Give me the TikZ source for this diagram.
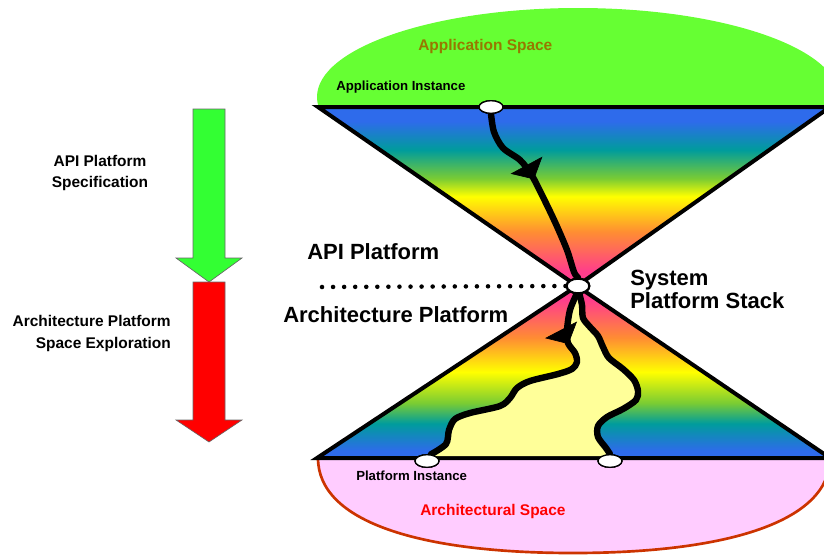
\documentclass[tikz,border=0pt]{standalone}
\usepackage{fontspec}
\setmainfont{Liberation Sans}
\usetikzlibrary{shapes.geometric,arrows.meta,decorations.markings}

\definecolor{appgreen}{HTML}{66FF33}
\definecolor{apptext}{HTML}{967800}
\definecolor{archpink}{HTML}{FFCCFF}
\definecolor{archline}{HTML}{CC3300}
\definecolor{coneblue}{HTML}{2E6BEB}
\definecolor{coneteal}{HTML}{009C9C}
\definecolor{conegreen}{HTML}{7ACC33}
\definecolor{coneyellow}{HTML}{FFFF00}
\definecolor{coneorange}{HTML}{FF8C33}
\definecolor{conepink}{HTML}{FF3D8C}
\definecolor{pathyellow}{HTML}{FFFF99}
\definecolor{specgreen}{HTML}{33FF33}

\pgfdeclareverticalshading{topcone}{100bp}{color(0bp)=(conepink); color(29bp)=(conepink); color(40bp)=(coneorange); color(50bp)=(coneyellow); color(55bp)=(conegreen); color(63bp)=(coneteal); color(71bp)=(coneblue); color(100bp)=(coneblue)}
\pgfdeclareverticalshading{botcone}{100bp}{color(0bp)=(coneblue); color(27bp)=(coneblue); color(35bp)=(coneteal); color(41bp)=(conegreen); color(50bp)=(coneyellow); color(60bp)=(coneorange); color(71bp)=(conepink); color(100bp)=(conepink)}

\begin{document}
\begin{tikzpicture}[x=0.75pt,y=-0.75pt,
  cone/.style={draw, line width=3pt, line join=miter, shade},
  route/.style={line width=4.8pt, line join=round, line cap=round},
  tip on/.style={postaction={decorate, decoration={markings, mark=at position #1 with {\arrow{Triangle[width=27pt,length=12pt,line width=0.5pt]}}}}},
  inst/.style={ellipse, draw, fill=white, line width=1pt, minimum width=18pt, minimum height=9.5pt, inner sep=0pt},
  divider/.style={line width=3.4pt, line cap=round, dash pattern=on 0pt off 8.3pt},
  blockarrow/.style={draw=black!60, line width=0.5pt},
  bigtext/.style={font=\fontsize{16.5}{17.3}\selectfont\bfseries, inner sep=0pt},
  midtext/.style={font=\fontsize{11.6}{15.8}\selectfont\bfseries, inner sep=0pt},
  smalltext/.style={font=\fontsize{9.9}{12}\selectfont\bfseries, inner sep=0pt}]
  \useasboundingbox (0,0) rectangle (824,554);
  % spaces
  \begin{scope}
    \clip (300,0) rectangle (830,107);
    \fill[appgreen] (578,97) ellipse [x radius=261, y radius=89];
  \end{scope}
  \filldraw[fill=archpink, draw=archline, line width=2pt] (318,458) .. controls (318,522) and (420,553) .. (573,553) .. controls (726,553) and (830,522) .. (830,458) -- cycle;
  % the two cones
  \path[cone, shading=topcone] (318,107) -- (830,107) -- (577,286) -- cycle;
  \path[cone, shading=botcone] (317,458) -- (830,458) -- (577,286) -- cycle;
  \node[inst, minimum width=17pt, minimum height=11pt, line width=1.6pt] (stack) at (578,286) {};
  \node[inst] (appinst) at (491,107) {};
  \node[inst] (platA) at (427,461) {};
  \node[inst] (platB) at (610,461) {};
  % explored region below the stack
  \fill[pathyellow] plot[smooth, tension=0.5] coordinates {(stack.-100) (570,310) (567,330) (568,343) (575,353) (577,362) (572,369) (558,374) (530,381) (517,388) (510,398) (500,406) (470,413) (455,419) (449,430) (446,444) (433,456)}
    -- (606,456) -- plot[smooth, tension=0.5] coordinates {(606,448) (598,437) (598,426) (607,417) (623,409) (636,400) (638,391) (634,380) (623,369) (609,358) (603,347) (598,336) (590,327) (583,318) (582,305) (stack.-80)} -- cycle;
  \draw[route, tip on=0.43] plot[smooth, tension=0.5] coordinates {(appinst.south) (494,132) (503,148) (520,160) (531,174) (541,193) (555,222) (567,250) (574,272) (stack.north)};
  \draw[route, tip on=0.2] plot[smooth, tension=0.5] coordinates {(stack.-100) (570,310) (567,330) (568,343) (575,353) (577,362) (572,369) (558,374) (530,381) (517,388) (510,398) (500,406) (470,413) (455,419) (449,430) (446,444) (platA.60)};
  \draw[route] plot[smooth, tension=0.5] coordinates {(stack.-80) (582,305) (583,318) (590,327) (598,336) (603,347) (609,358) (623,369) (634,380) (638,391) (636,400) (623,409) (607,417) (598,426) (598,437) (606,448) (platB.north)};
  \node[inst, minimum width=17pt, minimum height=11pt, line width=1.6pt] at (stack) {};
  \node[inst] at (appinst) {};
  \node[inst] at (platA) {};
  \node[inst] at (platB) {};
  \coordinate (dotstart) at (322,287);
  \draw[divider] (dotstart) -- (stack.west);
  % labels
  \node[midtext, text=apptext, anchor=base west] (applbl) at (418,50) {Application Space};
  \node[smalltext, anchor=base west] (appinstlbl) at (336,90) {Application Instance};
  \node[bigtext, anchor=base west] (apilbl) at (307,259) {API Platform};
  \node[bigtext, anchor=base west] (archlbl) at (283,322) {Architecture Platform};
  \node[bigtext, align=left, anchor=north west] (stacklbl) at (630,270) {System\\Platform Stack};
  \node[smalltext, anchor=base west] (platlbl) at (356,480) {Platform Instance};
  \node[midtext, text=red, anchor=base west] (archspacelbl) at (420,515) {Architectural Space};
  % design flow arrows
  \draw[blockarrow, fill=specgreen] (193,109) -- (225,109) -- (225,258) -- (242,258) -- (209,282) -- (176,258) -- (193,258) -- cycle;
  \draw[blockarrow, fill=red] (193,282) -- (225,282) -- (225,420) -- (242,420) -- (209,442) -- (176,420) -- (193,420) -- cycle;
  \node[midtext, align=center] (speclbl) at (100,173) {API Platform\\Specification};
  \node[midtext, align=right, anchor=east] (explbl) at (171,333.5) {Architecture Platform\\Space Exploration};
\end{tikzpicture}
\end{document}
